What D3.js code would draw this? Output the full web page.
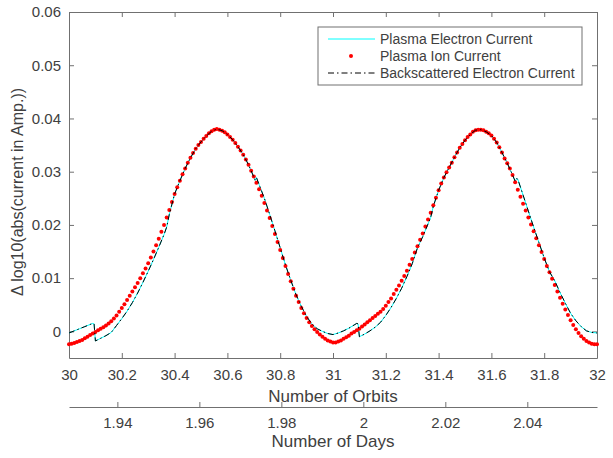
<!DOCTYPE html>
<html>
<head>
<meta charset="utf-8">
<script src="https://cdn.jsdelivr.net/npm/d3@7"></script>
<style>
  body { margin: 0; background: #fff; }
  svg { font-family: "Liberation Sans", Arial, sans-serif; }
</style>
</head>
<body>
<div id="graph-section"></div>
<script>
// orbit range and tick labels
var orbitTicks = [30, 30.2, 30.4, 30.6, 30.8, 31, 31.2, 31.4, 31.6, 31.8, 32]
var dayTicks = [1.94, 1.96, 1.98, 2, 2.02, 2.04]
var dayRange = [1.9282, 2.0570]
var yTicks = [0, 0.01, 0.02, 0.03, 0.04, 0.05, 0.06]

// plasma ion current, one dot per 0.01 orbit from 30.00 to 32.00
var ionStart = 30, ionStep = 0.01
var ionValues = [
  -0.0024, -0.0023, -0.0022, -0.0020, -0.0018, -0.0016, -0.0013, -0.0010, -0.0007, -0.0004,
  -0.0001, 0.0002, 0.0005, 0.0008, 0.0011, 0.0015, 0.0019, 0.0024, 0.0030, 0.0037,
  0.0044, 0.0051, 0.0059, 0.0067, 0.0075, 0.0083, 0.0091, 0.0100, 0.0109, 0.0118,
  0.0128, 0.0139, 0.0150, 0.0162, 0.0174, 0.0187, 0.0200, 0.0214, 0.0228, 0.0243,
  0.0258, 0.0271, 0.0283, 0.0295, 0.0306, 0.0317, 0.0326, 0.0335, 0.0343, 0.0350,
  0.0356, 0.0362, 0.0367, 0.0372, 0.0376, 0.0379, 0.0380, 0.0379, 0.0377, 0.0374,
  0.0370, 0.0365, 0.0360, 0.0354, 0.0347, 0.0340, 0.0332, 0.0323, 0.0313, 0.0302,
  0.0291, 0.0279, 0.0267, 0.0255, 0.0241, 0.0227, 0.0213, 0.0198, 0.0183, 0.0168,
  0.0153, 0.0138, 0.0123, 0.0108, 0.0094, 0.0080, 0.0067, 0.0055, 0.0044, 0.0034,
  0.0025, 0.0017, 0.0010, 0.0004, -0.0001, -0.0006, -0.0010, -0.0014, -0.0017, -0.0019,
  -0.0021, -0.0021, -0.0019, -0.0017, -0.0014, -0.0011, -0.0008, -0.0004, -0.0001, 0.0002,
  0.0005, 0.0009, 0.0013, 0.0017, 0.0021, 0.0025, 0.0029, 0.0033, 0.0037, 0.0042,
  0.0048, 0.0055, 0.0062, 0.0070, 0.0078, 0.0086, 0.0095, 0.0104, 0.0114, 0.0125,
  0.0136, 0.0148, 0.0160, 0.0172, 0.0184, 0.0197, 0.0210, 0.0223, 0.0237, 0.0251,
  0.0265, 0.0278, 0.0289, 0.0299, 0.0308, 0.0317, 0.0327, 0.0336, 0.0345, 0.0352,
  0.0359, 0.0365, 0.0370, 0.0375, 0.0378, 0.0379, 0.0379, 0.0378, 0.0375, 0.0372,
  0.0368, 0.0362, 0.0355, 0.0346, 0.0336, 0.0325, 0.0316, 0.0306, 0.0294, 0.0280,
  0.0266, 0.0253, 0.0240, 0.0227, 0.0214, 0.0201, 0.0188, 0.0175, 0.0162, 0.0149,
  0.0136, 0.0123, 0.0111, 0.0099, 0.0087, 0.0075, 0.0063, 0.0052, 0.0041, 0.0031,
  0.0021, 0.0012, 0.0004, -0.0003, -0.0009, -0.0014, -0.0018, -0.0021, -0.0023, -0.0024,
  -0.0024
]

// plasma electron / backscattered electron current (same trace)
var elecOrbits = [
  30.00, 30.02, 30.04, 30.06, 30.08, 30.09, 30.095, 30.10, 30.12, 30.14,
  30.16, 30.18, 30.20, 30.22, 30.24, 30.26, 30.28, 30.30, 30.32, 30.34,
  30.36, 30.37, 30.38, 30.40, 30.42, 30.44, 30.46, 30.48, 30.50, 30.52,
  30.54, 30.56, 30.58, 30.60, 30.62, 30.64, 30.66, 30.68, 30.70, 30.705,
  30.71, 30.72, 30.74, 30.76, 30.78, 30.80, 30.82, 30.84, 30.86, 30.88,
  30.90, 30.92, 30.94, 30.96, 30.98, 31.00, 31.02, 31.04, 31.06, 31.08,
  31.09, 31.095, 31.10, 31.12, 31.14, 31.16, 31.18, 31.20, 31.22, 31.24,
  31.26, 31.28, 31.30, 31.32, 31.34, 31.36, 31.37, 31.38, 31.40, 31.42,
  31.44, 31.46, 31.48, 31.50, 31.52, 31.54, 31.56, 31.58, 31.60, 31.62,
  31.64, 31.66, 31.68, 31.69, 31.695, 31.70, 31.72, 31.74, 31.76, 31.78,
  31.80, 31.82, 31.84, 31.86, 31.88, 31.90, 31.92, 31.94, 31.96, 31.98,
  32.00
]
var elecValues = [
  -0.0003, 0.0001, 0.0005, 0.0009, 0.0013, 0.0015, 0.0014, -0.0018, -0.0013, -0.0008,
  -0.0002, 0.0011, 0.0024, 0.0038, 0.0054, 0.0072, 0.0092, 0.0113, 0.0135, 0.0158,
  0.0182, 0.0196, 0.0220, 0.0258, 0.0283, 0.0306, 0.0326, 0.0343, 0.0356, 0.0367,
  0.0376, 0.0380, 0.0377, 0.0370, 0.0360, 0.0347, 0.0332, 0.0313, 0.0290, 0.0284,
  0.0289, 0.0276, 0.0250, 0.0220, 0.0189, 0.0157, 0.0125, 0.0096, 0.0069, 0.0047,
  0.0028, 0.0014, 0.0005, 0.0000, -0.0004, -0.0006, -0.0003, 0.0001, 0.0006, 0.0012,
  0.0015, 0.0014, -0.0010, -0.0005, 0.0001, 0.0008, 0.0017, 0.0030, 0.0045, 0.0062,
  0.0081, 0.0103, 0.0127, 0.0157, 0.0178, 0.0202, 0.0214, 0.0235, 0.0265, 0.0289,
  0.0308, 0.0327, 0.0345, 0.0359, 0.0370, 0.0378, 0.0379, 0.0375, 0.0368, 0.0355,
  0.0336, 0.0316, 0.0294, 0.0282, 0.0287, 0.0286, 0.0256, 0.0226, 0.0196, 0.0167,
  0.0138, 0.0112, 0.0095, 0.0073, 0.0053, 0.0034, 0.0020, 0.0009, 0.0001, -0.0002,
  -0.0003
]

var legendNames = ["Plasma Electron Current", "Plasma Ion Current", "Backscattered Electron Current"]

var ionData = ionValues.map(function(v, i) { return {orbit: ionStart + i * ionStep, value: v} })
var elecData = elecOrbits.map(function(o, i) { return {orbit: o, value: elecValues[i]} })

var fullWidth = 613
var fullHeight = 458
var margin = {top: 12, left: 69}
var width = 528
var height = 346
var textColor = "#404040"
var axisColor = "#707070"

var svg = d3.select('div#graph-section').append('svg')
    .attr('width', fullWidth)
    .attr('height', fullHeight)

var g = svg.append('g')
    .attr('transform', 'translate(' + margin.left + ',' + margin.top + ')')

var xScale = d3.scaleLinear().domain([30, 32]).range([0, width])
var yScale = d3.scaleLinear().domain([-0.005, 0.06]).range([height, 0])
var dayScale = d3.scaleLinear().domain(dayRange).range([0, width])

// axes, ticks point inward like the original
function styleAxis(sel, showText) {
    sel.selectAll('path.domain').attr('stroke', axisColor)
    sel.selectAll('.tick line').attr('stroke', axisColor)
    sel.selectAll('.tick text')
        .attr('fill', textColor)
        .style('font-size', '15px')
        .style('font-family', '"Liberation Sans", Arial, sans-serif')
    if (!showText) sel.selectAll('.tick text').remove()
}

var xAxisEle = g.append('g')
    .attr('transform', 'translate(0,' + height + ')')
    .call(d3.axisBottom(xScale).tickValues(orbitTicks).tickSizeInner(-5).tickSizeOuter(0).tickPadding(11)
        .tickFormat(function(d) { return d3.format('')(+d.toFixed(1)) }))
styleAxis(xAxisEle, true)

var topAxis = g.append('g')
    .call(d3.axisTop(xScale).tickValues(orbitTicks).tickSizeInner(-5).tickSizeOuter(0))
styleAxis(topAxis, false)

var yAxisEle = g.append('g')
    .call(d3.axisLeft(yScale).tickValues(yTicks).tickSizeInner(-5).tickSizeOuter(0).tickPadding(8)
        .tickFormat(function(d) { return d === 0 ? '0' : d3.format('.2f')(d) }))
styleAxis(yAxisEle, true)

var rightAxis = g.append('g')
    .attr('transform', 'translate(' + width + ',0)')
    .call(d3.axisRight(yScale).tickValues(yTicks).tickSizeInner(-5).tickSizeOuter(0))
styleAxis(rightAxis, false)

// second axis for days
var dayAxisEle = g.append('g')
    .attr('transform', 'translate(0,395)')
    .call(d3.axisBottom(dayScale).tickValues(dayTicks).tickSizeInner(-5).tickSizeOuter(0).tickPadding(10)
        .tickFormat(function(d) { return d3.format('')(+d.toFixed(2)) }))
styleAxis(dayAxisEle, true)

// axis titles
svg.append('text')
    .attr('x', margin.left + width / 2)
    .attr('y', 402)
    .attr('text-anchor', 'middle')
    .attr('fill', textColor)
    .style('font-size', '17px')
    .text('Number of Orbits')

svg.append('text')
    .attr('x', margin.left + width / 2)
    .attr('y', 447)
    .attr('text-anchor', 'middle')
    .attr('fill', textColor)
    .style('font-size', '17px')
    .text('Number of Days')

svg.append('text')
    .attr('transform', 'translate(23,' + (margin.top + 180) + ')rotate(-90)')
    .attr('text-anchor', 'middle')
    .attr('fill', textColor)
    .style('font-size', '16px')
    .text('\u0394 log10(abs(current in Amp.))')

// series
var line = d3.line()
    .x(function(d) { return xScale(d.orbit) })
    .y(function(d) { return yScale(d.value) })

g.append('path')
    .datum(elecData)
    .attr('d', line)
    .attr('fill', 'none')
    .attr('stroke', '#00ffff')
    .attr('stroke-width', 1)

g.selectAll('circle.ion')
    .data(ionData)
.enter().append('circle')
    .classed('ion', true)
    .attr('cx', function(d) { return xScale(d.orbit) })
    .attr('cy', function(d) { return yScale(d.value) })
    .attr('r', 2)
    .attr('fill', '#ff0000')

g.append('path')
    .datum(elecData)
    .attr('d', line)
    .attr('fill', 'none')
    .attr('stroke', '#000')
    .attr('stroke-width', 1)
    .attr('stroke-dasharray', '6,3,1.5,3')

// legend
var legend = svg.append('g').attr('transform', 'translate(318,27)')
legend.append('rect')
    .attr('width', 264)
    .attr('height', 58)
    .attr('fill', '#fff')
    .attr('stroke', axisColor)

var rows = [12, 29, 46]
legend.append('line')
    .attr('x1', 10).attr('x2', 57).attr('y1', rows[0]).attr('y2', rows[0])
    .attr('stroke', '#00ffff')
legend.append('circle')
    .attr('cx', 33).attr('cy', rows[1]).attr('r', 2).attr('fill', '#ff0000')
legend.append('line')
    .attr('x1', 10).attr('x2', 57).attr('y1', rows[2]).attr('y2', rows[2])
    .attr('stroke', '#000')
    .attr('stroke-dasharray', '6,3,1.5,3')

legend.selectAll('text.name')
    .data(legendNames)
.enter().append('text')
    .classed('name', true)
    .attr('x', 62)
    .attr('y', function(d, i) { return rows[i] + 5 })
    .attr('fill', textColor)
    .style('font-size', '14px')
    .text(function(d) { return d })
</script>
</body>
</html>
